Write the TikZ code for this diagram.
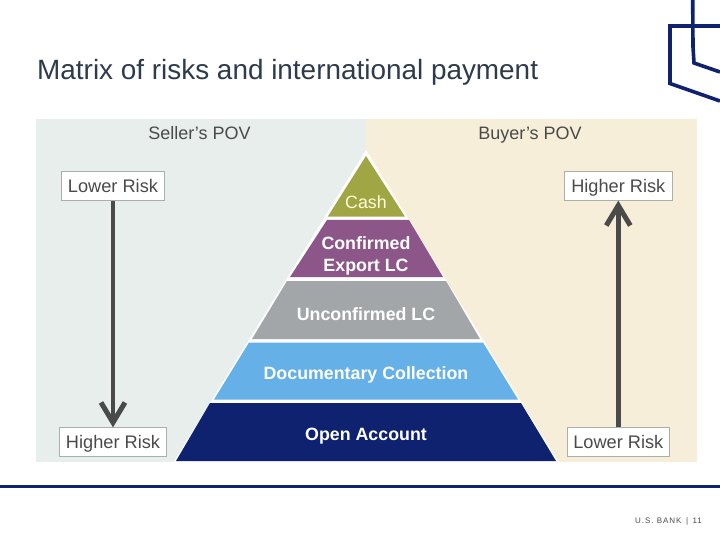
\documentclass[tikz,border=0pt]{standalone}
\usepackage{fontspec}
\setmainfont{Liberation Sans}
\newfontfamily\spaced[LetterSpace=12]{Liberation Sans}
\usetikzlibrary{arrows.meta}
\definecolor{navy}{HTML}{0E2270}
\definecolor{inkgray}{HTML}{4A4A4A}
\definecolor{titlegray}{HTML}{2E3B4C}
\definecolor{leftbg}{HTML}{E8EEEC}
\definecolor{rightbg}{HTML}{F7EEDA}
\definecolor{cashc}{HTML}{A0A644}
\definecolor{conf}{HTML}{8C5689}
\definecolor{unconf}{HTML}{A2A6A9}
\definecolor{doc}{HTML}{65B0E6}
\definecolor{boxline}{HTML}{A9B0A8}
\tikzset{
  x=1pt,y=-1pt,
  lbl/.style={inner sep=0pt,text=inkgray,text height=13pt,text depth=4pt,font=\fontsize{18}{21}\selectfont},
  riskbox/.style={draw=boxline,line width=0.8pt,fill=white,inner sep=0pt,text=inkgray,text height=15pt,text depth=2.6pt,font=\fontsize{18.2}{21}\selectfont,minimum height=28.5pt},
  pyrtext/.style={inner sep=0pt,text=white,align=center,font=\fontsize{17.8}{22}\selectfont\bfseries},
  pyrone/.style={pyrtext,text height=13pt,text depth=4pt},
  riskarrow/.style={draw=inkgray,line width=4.6pt,-{Straight Barb[length=20pt,width=24pt,line width=5pt]}},
  logo/.style={draw=navy,line width=3.6pt,line join=miter}
}
\begin{document}
\begin{tikzpicture}
\useasboundingbox (0,0) rectangle (720,540);
\fill[white] (0,0) rectangle (720,540);
\fill[leftbg] (36,119) rectangle (366,462);
\fill[rightbg] (366,119) rectangle (697,462);
% logo
\draw[logo] (720,26) -- (670,26) -- (670,83.5) -- (720,101);
\draw[logo] (692.7,0) -- (693,47) -- (694,63) -- (720,72);
% title
\node[anchor=base west,inner sep=0pt,text=titlegray,font=\fontsize{27.9}{32}\selectfont] (title) at (37,80) {Matrix of risks and international payment};
\node[lbl] (seller) at (199.5,135.5) {Seller’s POV};
\node[lbl] (buyer) at (530,135.5) {Buyer’s POV};
% pyramid
\fill[white] (366,150) -- (173,463) -- (559,463) -- cycle;
\fill[cashc] (366,156) -- (405,216.7) -- (327.7,216.7) -- cycle;
\fill[conf] (327,220) -- (409,220) -- (443,277) -- (290,277) -- cycle;
\fill[unconf] (287,281) -- (446,281) -- (480,339) -- (252,339) -- cycle;
\fill[doc] (249,342.5) -- (483,342.5) -- (518,399.5) -- (214,399.5) -- cycle;
\fill[navy] (210,403) -- (521,403) -- (556,461) -- (176,461) -- cycle;
\node[inner sep=0pt,text=white!85!yellow,text height=13pt,text depth=4pt,font=\fontsize{17.8}{20}\selectfont] (cash) at (366,204.5) {Cash};
\node[pyrtext] (confirmed) at (366,256.2) {Confirmed\\Export LC};
\node[pyrone] (unconfirmed) at (366,315.5) {Unconfirmed LC};
\node[pyrone] (documentary) at (366,374.8) {Documentary Collection};
\node[pyrone] (open) at (366,435.5) {Open Account};
% risk boxes
\node[riskbox,minimum width=103pt] (lowerL) at (113,186) {Lower Risk};
\node[riskbox,minimum width=107pt] (higherL) at (113,442) {Higher Risk};
\node[riskbox,minimum width=108pt] (higherR) at (618.3,186) {Higher Risk};
\node[riskbox,minimum width=102pt] (lowerR) at (618.3,442) {Lower Risk};
\draw[riskarrow] (lowerL.south) -- (higherL.north);
\draw[riskarrow] (lowerR.north) -- (higherR.south);
% footer
\draw[navy,line width=3pt] (0,486) -- (720,486);
\node[anchor=west,inner sep=0pt,text=inkgray,font=\fontsize{8}{10}\selectfont\spaced] (footer) at (635,521) {U.S. BANK \,|\, 11};
\end{tikzpicture}
\end{document}
